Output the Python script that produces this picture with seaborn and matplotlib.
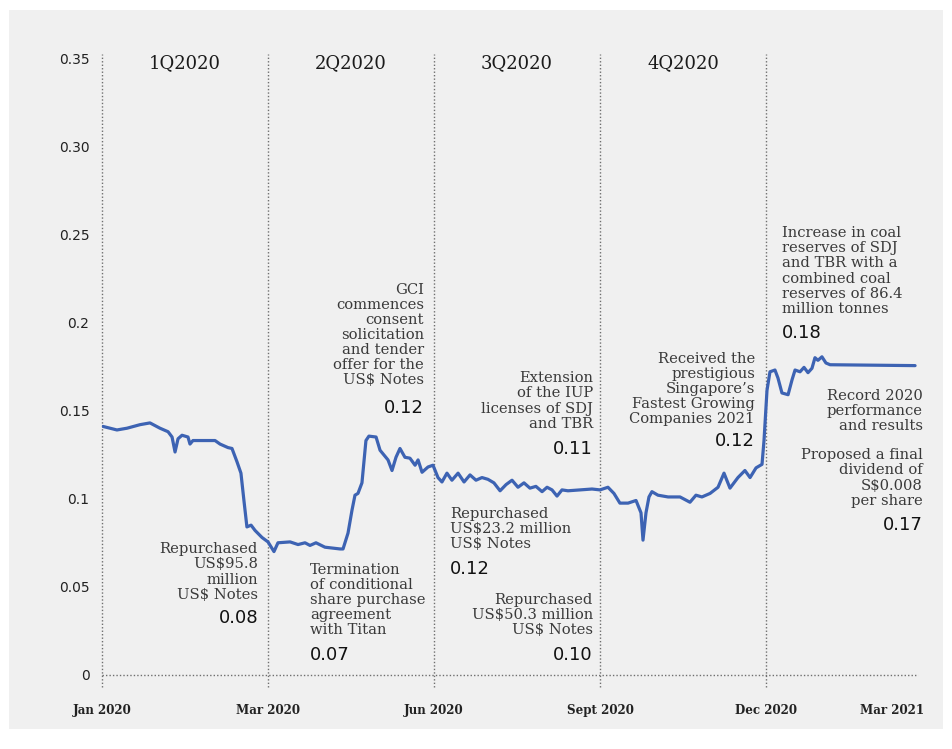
import matplotlib
matplotlib.use("Agg")
import matplotlib.pyplot as plt
import seaborn as sns
import pandas as pd
from matplotlib.patches import Rectangle

# ---------------- data ----------------
# x position in "period units": 0 = Jan 2020, 1 = Mar 2020, 2 = Jun 2020, 3 = Sept 2020, 4 = Dec 2020
period_pos = [0.006, 0.090, 0.151, 0.229, 0.289, 0.349, 0.398, 0.422, 0.440, 0.458,
              0.482, 0.518, 0.530, 0.548, 0.681, 0.711, 0.759, 0.783, 0.813, 0.837,
              0.855, 0.873, 0.898, 0.922, 0.964, 1.000, 1.036, 1.060, 1.133, 1.181,
              1.223, 1.253, 1.289, 1.343, 1.434, 1.452, 1.482, 1.506, 1.524, 1.542,
              1.566, 1.590, 1.608, 1.651, 1.675, 1.723, 1.747, 1.771, 1.795, 1.825,
              1.855, 1.886, 1.904, 1.928, 1.964, 1.994, 2.024, 2.048, 2.078, 2.108,
              2.145, 2.181, 2.217, 2.253, 2.289, 2.325, 2.361, 2.398, 2.434, 2.470,
              2.506, 2.542, 2.578, 2.614, 2.651, 2.681, 2.711, 2.741, 2.771, 2.807,
              2.880, 2.952, 3.000, 3.048, 3.084, 3.120, 3.169, 3.217, 3.247, 3.259,
              3.277, 3.295, 3.313, 3.349, 3.410, 3.482, 3.542, 3.578, 3.614, 3.663,
              3.711, 3.747, 3.783, 3.831, 3.873, 3.904, 3.940, 3.976, 3.988, 4.006,
              4.024, 4.054, 4.072, 4.096, 4.133, 4.157, 4.175, 4.205, 4.229, 4.253,
              4.277, 4.295, 4.313, 4.337, 4.361, 4.386, 4.898]
share_price = [0.141, 0.139, 0.140, 0.142, 0.143, 0.140, 0.138, 0.135, 0.1265, 0.134,
               0.136, 0.135, 0.131, 0.133, 0.133, 0.131, 0.129, 0.1285, 0.121, 0.1145,
               0.099, 0.084, 0.085, 0.082, 0.078, 0.0755, 0.070, 0.075, 0.0755, 0.074,
               0.075, 0.0735, 0.075, 0.0725, 0.0715, 0.0715, 0.0805, 0.0935, 0.102, 0.103,
               0.109, 0.133, 0.1355, 0.135, 0.1275, 0.122, 0.116, 0.1235, 0.1285, 0.1235,
               0.123, 0.119, 0.122, 0.115, 0.118, 0.119, 0.112, 0.1095, 0.1145, 0.1105,
               0.1145, 0.1095, 0.1135, 0.1105, 0.112, 0.111, 0.109, 0.1045, 0.108, 0.1105,
               0.1065, 0.109, 0.106, 0.107, 0.104, 0.1065, 0.105, 0.1015, 0.105, 0.1045,
               0.105, 0.1055, 0.105, 0.1065, 0.103, 0.0975, 0.0975, 0.099, 0.092, 0.0765,
               0.092, 0.101, 0.104, 0.102, 0.101, 0.101, 0.098, 0.102, 0.101, 0.103,
               0.1065, 0.1145, 0.106, 0.112, 0.116, 0.112, 0.1175, 0.1195, 0.133, 0.1615,
               0.172, 0.173, 0.1685, 0.160, 0.159, 0.1675, 0.173, 0.172, 0.1745, 0.1715,
               0.174, 0.180, 0.1785, 0.1805, 0.177, 0.176, 0.1755]

x_tick_pos = [0, 1, 2, 3, 4, 4.76]
x_tick_labels = ["Jan 2020", "Mar 2020", "Jun 2020", "Sept 2020", "Dec 2020", "Mar 2021"]
y_tick_vals = [0, 0.05, 0.10, 0.15, 0.20, 0.25, 0.30, 0.35]
y_tick_labels = ["0", "0.05", "0.1", "0.15", "0.2", "0.25", "0.30", "0.35"]
quarter_labels = ["1Q2020", "2Q2020", "3Q2020", "4Q2020"]
divider_pos = [0, 1, 2, 3, 4]

# ---------------- style ----------------
sns.set_style("white")
plt.rcParams["font.family"] = ["DejaVu Sans"]

W, H = 952, 749
fig = plt.figure(figsize=(W / 100, H / 100), dpi=100, facecolor="white")
fig.patches.append(Rectangle((9 / W, 1 - 729 / H), (943 - 9) / W, (729 - 10) / H,
                             transform=fig.transFigure, facecolor="#f0f0f0",
                             edgecolor="none", zorder=-10))

ax = fig.add_axes([102 / W, 1 - 675 / H, 816 / W, 617 / H])
ax.set_facecolor("none")

df = pd.DataFrame({"pos": period_pos, "price": share_price})
sns.lineplot(data=df, x="pos", y="price", ax=ax, color="#3d63b3", linewidth=2.3,
             solid_joinstyle="round", zorder=5)

ax.set_xlim(0, 816 / 166)
ax.set_ylim(0, 0.35)
for s in ax.spines.values():
    s.set_visible(False)
ax.set_xlabel("")
ax.set_ylabel("")

dot = (0, (1, 1.5))
for p in divider_pos:
    ax.axvline(p, ymin=-0.02, ymax=1.007, color="#6f6f6f", linewidth=1.0,
               linestyle=dot, clip_on=False, zorder=1)
ax.axhline(0, color="#6f6f6f", linewidth=1.0, linestyle=dot, clip_on=False, zorder=1)

ax.set_xticks(x_tick_pos)
ax.set_xticklabels(x_tick_labels, family="DejaVu Serif", fontweight="bold",
                   fontsize=8.6, color="#222222")
ax.set_yticks(y_tick_vals)
ax.set_yticklabels(y_tick_labels, fontsize=10, color="#222222")
ax.tick_params(axis="x", length=0, pad=21)
ax.tick_params(axis="y", length=0, pad=9)

# quarter labels
for i, q in enumerate(quarter_labels):
    ax.text(i + 0.5, 0.347, q, ha="center", va="center", family="DejaVu Serif",
            fontsize=13, color="#1a1a1a")


def px2data(px, py):
    return (px - 102) / 166, (675 - py) / 1763


def note(px, py, txt, ha):
    x, y = px2data(px, py)
    ax.text(x, y, txt, ha=ha, va="center", multialignment=ha, family="DejaVu Serif",
            fontsize=10.6, color="#3a3a3a", linespacing=1.1, zorder=6)


def val(px, py, txt, ha):
    x, y = px2data(px, py)
    ax.text(x, y, txt, ha=ha, va="center", fontsize=13, color="#111111", zorder=6)


note(258, 572, "Repurchased\nUS$95.8\nmillion\nUS$ Notes", "right")
val(258, 618, "0.08", "right")

note(310, 600, "Termination\nof conditional\nshare purchase\nagreement\nwith Titan", "left")
val(310, 655, "0.07", "left")

note(424, 335, "GCI\ncommences\nconsent\nsolicitation\nand tender\noffer for the\nUS$ Notes", "right")
val(424, 408, "0.12", "right")

note(593, 401, "Extension\nof the IUP\nlicenses of SDJ\nand TBR", "right")
val(593, 449, "0.11", "right")

note(450, 529, "Repurchased\nUS$23.2 million\nUS$ Notes", "left")
val(450, 569, "0.12", "left")

note(593, 615, "Repurchased\nUS$50.3 million\nUS$ Notes", "right")
val(593, 655, "0.10", "right")

note(755, 389, "Received the\nprestigious\nSingapore\u2019s\nFastest Growing\nCompanies 2021", "right")
val(755, 441, "0.12", "right")

note(782, 271, "Increase in coal\nreserves of SDJ\nand TBR with a\ncombined coal\nreserves of 86.4\nmillion tonnes", "left")
val(782, 333, "0.18", "left")

note(923, 411, "Record 2020\nperformance\nand results", "right")
note(923, 478, "Proposed a final\ndividend of\nS$0.008\nper share", "right")
val(923, 525, "0.17", "right")

fig.savefig("out.png", dpi=100, facecolor="white")
